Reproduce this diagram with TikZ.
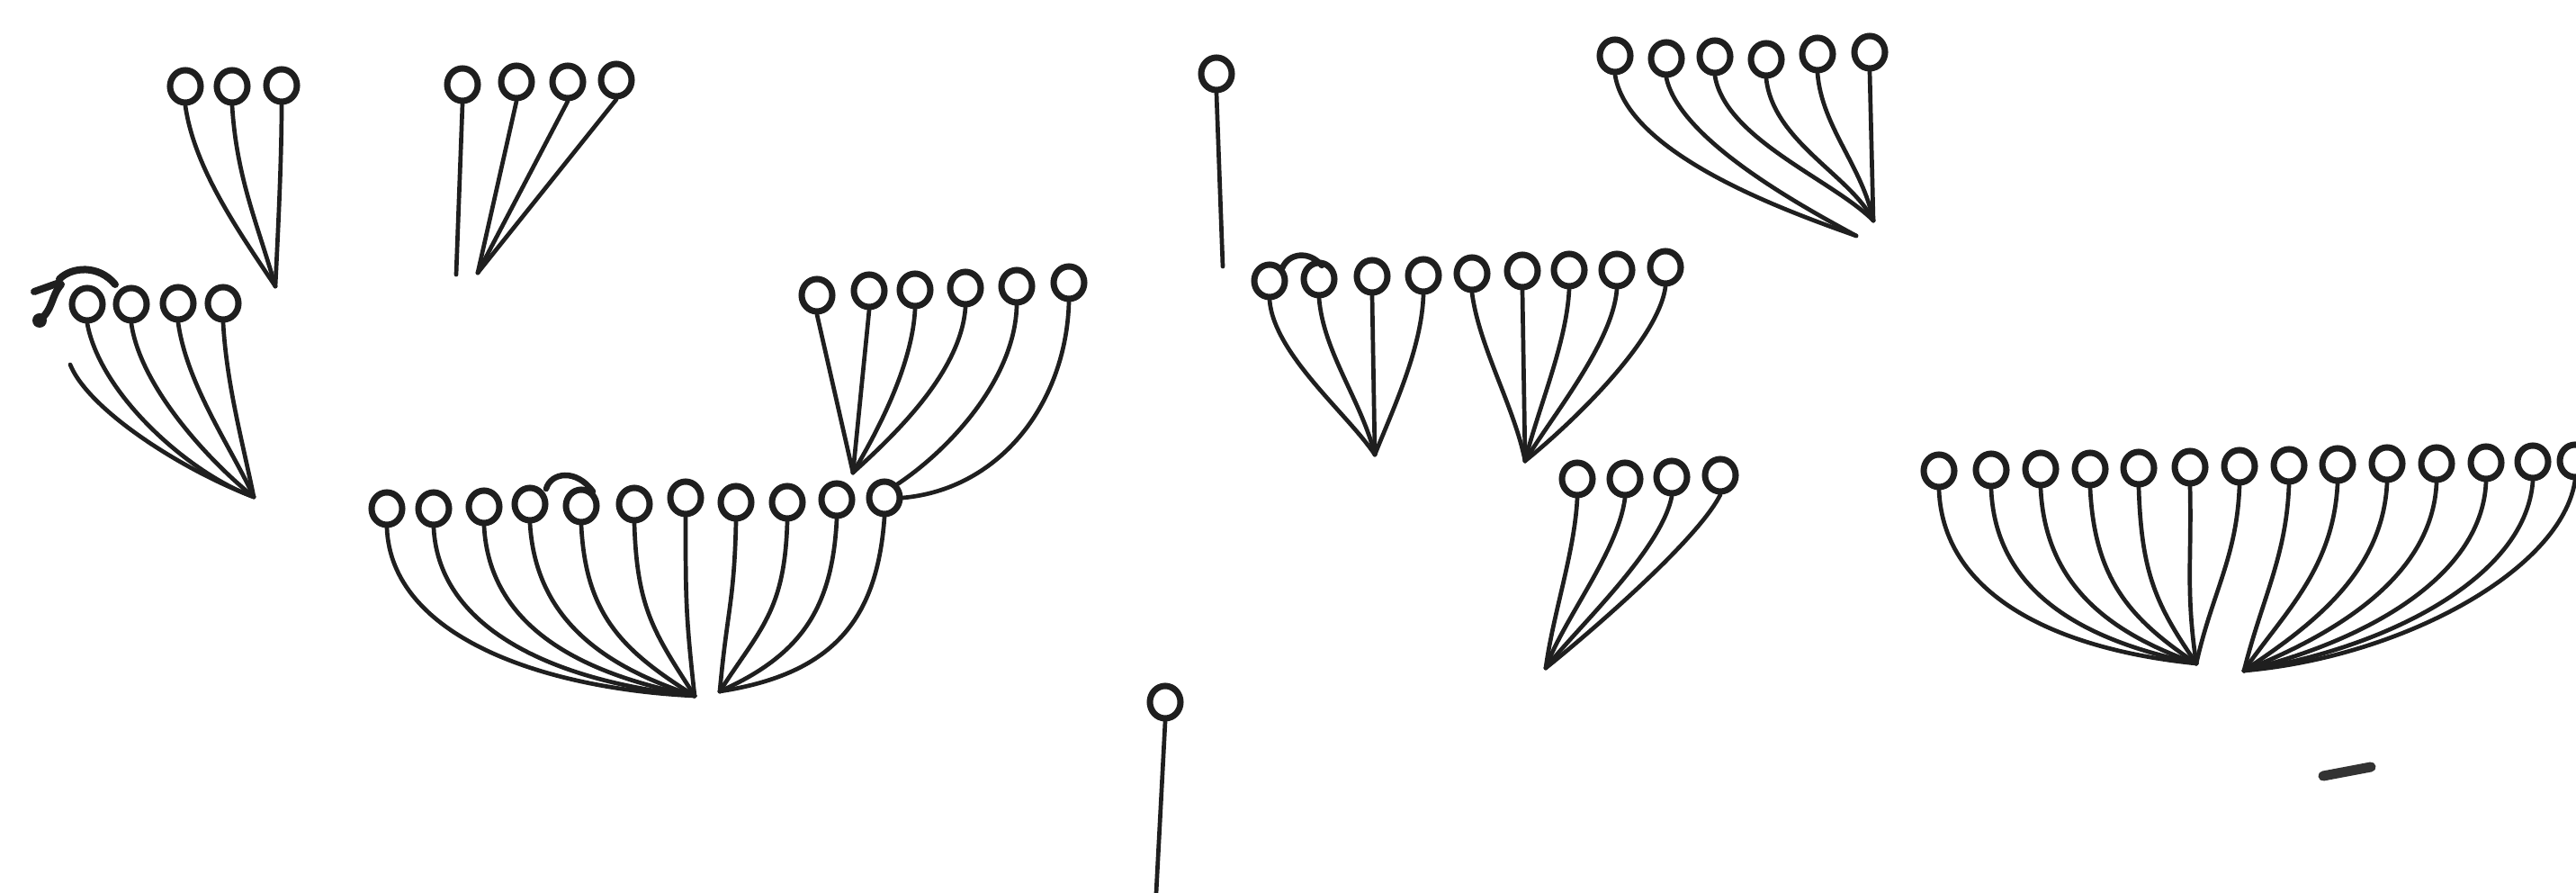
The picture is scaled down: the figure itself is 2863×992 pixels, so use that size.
\documentclass[tikz,border=0pt]{standalone}
\usetikzlibrary{shapes.geometric}
\begin{document}
\begin{tikzpicture}[x=0.01cm,y=-0.01cm,
  circ/.style={draw=black!88, ellipse, minimum width=0.34cm, minimum height=0.36cm, inner sep=0pt, line width=0.07cm},
  stem/.style={draw=black!88, line width=0.047cm, line cap=round},
  scrib/.style={draw=black!88, line width=0.08cm, line cap=round, line join=round}]
\fill[white] (0,0) rectangle (2863,992);
\useasboundingbox (0,0) rectangle (2863,992);

% ---------- circles ----------
\foreach \n/\x/\y in {A1/206/96, A2/258/96, A3/313/95,
  B1/514/94, B2/574/91, B3/631/91, B4/685/89,
  C1/97/338, C2/146/338, C3/198/337, C4/248/337,
  D1/430/565, D2/482/565, D3/538/563, D4/589/560, D5/646/562, D6/705/560,
  D7/762/553, D8/818/558, D9/875/558, D10/930/555, D11/983/553,
  E1/908/328, E2/966/323, E3/1017/322, E4/1073/320, E5/1130/318, E6/1188/314,
  F1/1352/82,
  G1/1795/62, G2/1852/65, G3/1906/63, G4/1963/66, G5/2020/60, G6/2078/58,
  H1/1411/312, H2/1466/310, H3/1525/307, H4/1582/306, H5/1636/304,
  H6/1692/301, H7/1744/300, H8/1797/300, H9/1851/297,
  I1/1753/532, I2/1806/532, I3/1858/530, I4/1912/528,
  J1/2155/523, J2/2213/522, J3/2268/521, J4/2323/521, J5/2377/520,
  J6/2434/519, J7/2489/518, J8/2544/517, J9/2598/516, J10/2653/515,
  J11/2708/515, J12/2763/514, J13/2815/513, J14/2862/512,
  K1/1295/780}
  \node[circ] (\n) at (\x,\y) {};

% ---------- apexes and free ends ----------
\coordinate (A0) at (306,318);
\coordinate (B0) at (531,303);
\coordinate (B1e) at (507,305);
\coordinate (C0) at (282,552);
\coordinate (C0s) at (78,405);
\coordinate (D0) at (772,773);
\coordinate (D0r) at (800,768);
\coordinate (E0) at (948,525);
\coordinate (F0) at (1359,296);
\coordinate (G0) at (2082,245);
\coordinate (G0b) at (2063,262);
\coordinate (H0L) at (1528,505);
\coordinate (H0R) at (1695,512);
\coordinate (I0) at (1718,742);
\coordinate (J0L) at (2441,737);
\coordinate (J0R) at (2494,745);
\coordinate (K0) at (1285,992);

% ---------- curved stems ----------
\foreach \n/\ax/\ay/\bx/\by/\e in {
  A1/10/70/-40/-60/A0, A2/5/80/-20/-70/A0, A3/0/60/3/-60/A0,
  C1/15/80/-70/-25/C0, C2/10/70/-50/-40/C0, C3/10/70/-25/-55/C0, C4/4/70/-12/-60/C0,
  D1/5/120/-170/-8/D0, D2/6/115/-150/-15/D0, D3/6/110/-130/-25/D0,
  D4/6/100/-110/-35/D0, D5/5/100/-80/-50/D0, D6/3/95/-45/-70/D0,
  D7/0/90/-10/-90/D0, D8/-2/90/8/-90/D0r, D9/-3/100/45/-70/D0r,
  D10/-5/100/90/-40/D0r, D11/-8/110/130/-20/D0r,
  E3/-3/60/30/-50/E0, E4/-5/70/50/-45/E0,
  G1/15/90/-70/-25/G0b, G2/15/70/-55/-30/G0b, G3/12/70/-45/-45/G0,
  G4/8/70/-25/-50/G0, G5/5/60/-12/-60/G0,
  H1/5/60/-30/-45/H0L, H2/5/60/-15/-60/H0L, H4/-2/60/20/-50/H0L,
  H5/8/60/-12/-60/H0R, H7/-3/60/15/-60/H0R, H8/-5/60/30/-50/H0R, H9/-8/60/50/-40/H0R,
  I1/-3/60/8/-60/I0, I2/-8/60/20/-55/I0, I3/-12/60/35/-45/I0, I4/-25/50/50/-40/I0,
  J1/5/120/-150/-15/J0L, J2/5/115/-125/-25/J0L, J3/5/105/-100/-35/J0L,
  J4/5/100/-75/-50/J0L, J5/3/95/-45/-65/J0L, J6/2/80/-12/-80/J0L, J7/-3/80/18/-80/J0L,
  J8/-3/80/20/-80/J0R, J9/-5/95/45/-65/J0R, J10/-5/100/75/-50/J0R,
  J11/-5/105/100/-40/J0R, J12/-5/110/125/-30/J0R, J13/-8/110/150/-22/J0R,
  J14/-15/100/175/-15/J0R}
  \draw[stem] (\n.south) .. controls +(\ax,\ay) and +(\bx,\by) .. (\e);

% ---------- straight stems ----------
\foreach \n/\e in {B1/B1e, B2/B0, B3/B0, B4/B0, E1/E0, E2/E0, F1/F0, G6/G0,
  H3/H0L, H6/H0R, K1/K0}
  \draw[stem] (\n.south) -- (\e);

% ---------- special stems ----------
\draw[stem] (C0s) .. controls +(20,50) and +(-80,-30) .. (C0);
\draw[stem] (E5.south) .. controls +(-2,80) and +(60,-40) .. (D11.north east);
\draw[stem] (E6.south) .. controls +(-3,110) and +(110,-10) .. (D11.east);

% ---------- scribbles ----------
\draw[scrib] (38,324) -- (66,314);
\draw[scrib] (66,310) .. controls (80,296) and (110,294) .. (128,316);
\draw[scrib] (68,316) .. controls (56,330) and (60,342) .. (44,356);
\fill[black!88] (44,356) circle (8);
\draw[scrib, line width=0.065cm] (607,543) .. controls (612,525) and (640,520) .. (659,546);
\draw[scrib, line width=0.065cm] (1425,298) .. controls (1432,281) and (1455,278) .. (1469,295);
\draw[draw=black!80, line width=0.11cm, line cap=round] (2582,862) -- (2635,852);
\end{tikzpicture}
\end{document}
